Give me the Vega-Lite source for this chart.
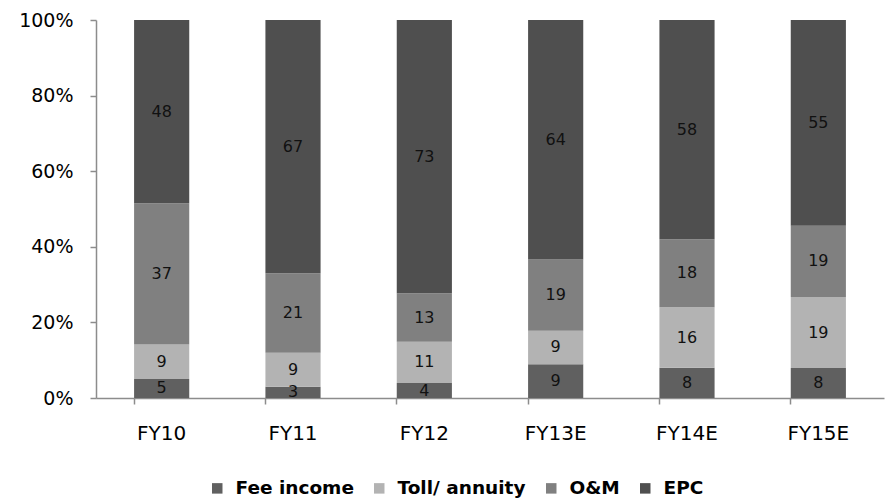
{
  "$schema": "https://vega.github.io/schema/vega-lite/v6.json",
  "autosize": "none",
  "width": 788,
  "height": 378,
  "padding": {"left": 96, "top": 20, "right": 9, "bottom": 101},
  "background": "white",
  "config": {
    "view": {"stroke": null},
    "font": "DejaVu Sans"
  },
  "data": {
    "values": [
      {"year": "FY10", "segment": "Fee income", "idx": 1, "value": 5},
      {"year": "FY10", "segment": "Toll/ annuity", "idx": 2, "value": 9},
      {"year": "FY10", "segment": "O&M", "idx": 3, "value": 37},
      {"year": "FY10", "segment": "EPC", "idx": 4, "value": 48},
      {"year": "FY11", "segment": "Fee income", "idx": 1, "value": 3},
      {"year": "FY11", "segment": "Toll/ annuity", "idx": 2, "value": 9},
      {"year": "FY11", "segment": "O&M", "idx": 3, "value": 21},
      {"year": "FY11", "segment": "EPC", "idx": 4, "value": 67},
      {"year": "FY12", "segment": "Fee income", "idx": 1, "value": 4},
      {"year": "FY12", "segment": "Toll/ annuity", "idx": 2, "value": 11},
      {"year": "FY12", "segment": "O&M", "idx": 3, "value": 13},
      {"year": "FY12", "segment": "EPC", "idx": 4, "value": 73},
      {"year": "FY13E", "segment": "Fee income", "idx": 1, "value": 9},
      {"year": "FY13E", "segment": "Toll/ annuity", "idx": 2, "value": 9},
      {"year": "FY13E", "segment": "O&M", "idx": 3, "value": 19},
      {"year": "FY13E", "segment": "EPC", "idx": 4, "value": 64},
      {"year": "FY14E", "segment": "Fee income", "idx": 1, "value": 8},
      {"year": "FY14E", "segment": "Toll/ annuity", "idx": 2, "value": 16},
      {"year": "FY14E", "segment": "O&M", "idx": 3, "value": 18},
      {"year": "FY14E", "segment": "EPC", "idx": 4, "value": 58},
      {"year": "FY15E", "segment": "Fee income", "idx": 1, "value": 8},
      {"year": "FY15E", "segment": "Toll/ annuity", "idx": 2, "value": 19},
      {"year": "FY15E", "segment": "O&M", "idx": 3, "value": 19},
      {"year": "FY15E", "segment": "EPC", "idx": 4, "value": 55}
    ]
  },
  "transform": [
    {"stack": "value", "groupby": ["year"], "sort": [{"field": "idx", "order": "ascending"}], "offset": "normalize", "as": ["lo", "hi"]},
    {"calculate": "(datum.lo + datum.hi) / 2", "as": "mid"}
  ],
  "encoding": {
    "x": {
      "field": "year",
      "type": "nominal",
      "sort": null,
      "scale": {"paddingInner": 0.58, "paddingOuter": 0.29},
      "axis": {
        "title": null,
        "labelAngle": 0,
        "labelFont": "DejaVu Sans",
        "labelFontSize": 20,
        "labelColor": "#000000",
        "labelPadding": 19,
        "domainColor": "#8c8c8c",
        "domainWidth": 1.5,
        "tickColor": "#8c8c8c",
        "tickSize": 6,
        "tickWidth": 1.5,
        "bandPosition": 0
      }
    }
  },
  "layer": [
    {
      "mark": {"type": "bar"},
      "encoding": {
        "y": {
          "field": "lo",
          "type": "quantitative",
          "scale": {"domain": [0, 1]},
          "axis": {
            "title": null,
            "format": ".0%",
            "values": [0, 0.2, 0.4, 0.6, 0.8, 1],
            "grid": false,
            "labelFont": "DejaVu Sans",
            "labelFontSize": 19,
            "labelColor": "#000000",
            "labelPadding": 17,
            "domainColor": "#8c8c8c",
            "domainWidth": 1.5,
            "tickColor": "#8c8c8c",
            "tickSize": 6,
            "tickWidth": 1.5
          }
        },
        "y2": {"field": "hi"},
        "color": {
          "field": "segment",
          "type": "nominal",
          "sort": ["Fee income", "Toll/ annuity", "O&M", "EPC"],
          "scale": {
            "domain": ["Fee income", "Toll/ annuity", "O&M", "EPC"],
            "range": ["#606060", "#b3b3b3", "#808080", "#4f4f4f"]
          },
          "legend": {
            "title": null,
            "orient": "none",
            "direction": "horizontal",
            "legendX": 112,
            "legendY": 459,
            "symbolType": "square",
            "symbolSize": 110,
            "symbolStrokeWidth": 0,
            "labelFont": "DejaVu Sans",
            "labelFontWeight": "bold",
            "labelFontSize": 18.5,
            "labelColor": "#000000",
            "labelOffset": 9,
            "columnPadding": 16
          }
        }
      }
    },
    {
      "mark": {"type": "text", "font": "DejaVu Sans", "fontSize": 16, "color": "#111111", "baseline": "middle"},
      "encoding": {
        "y": {"field": "mid", "type": "quantitative"},
        "text": {"field": "value", "type": "quantitative"}
      }
    }
  ]
}
